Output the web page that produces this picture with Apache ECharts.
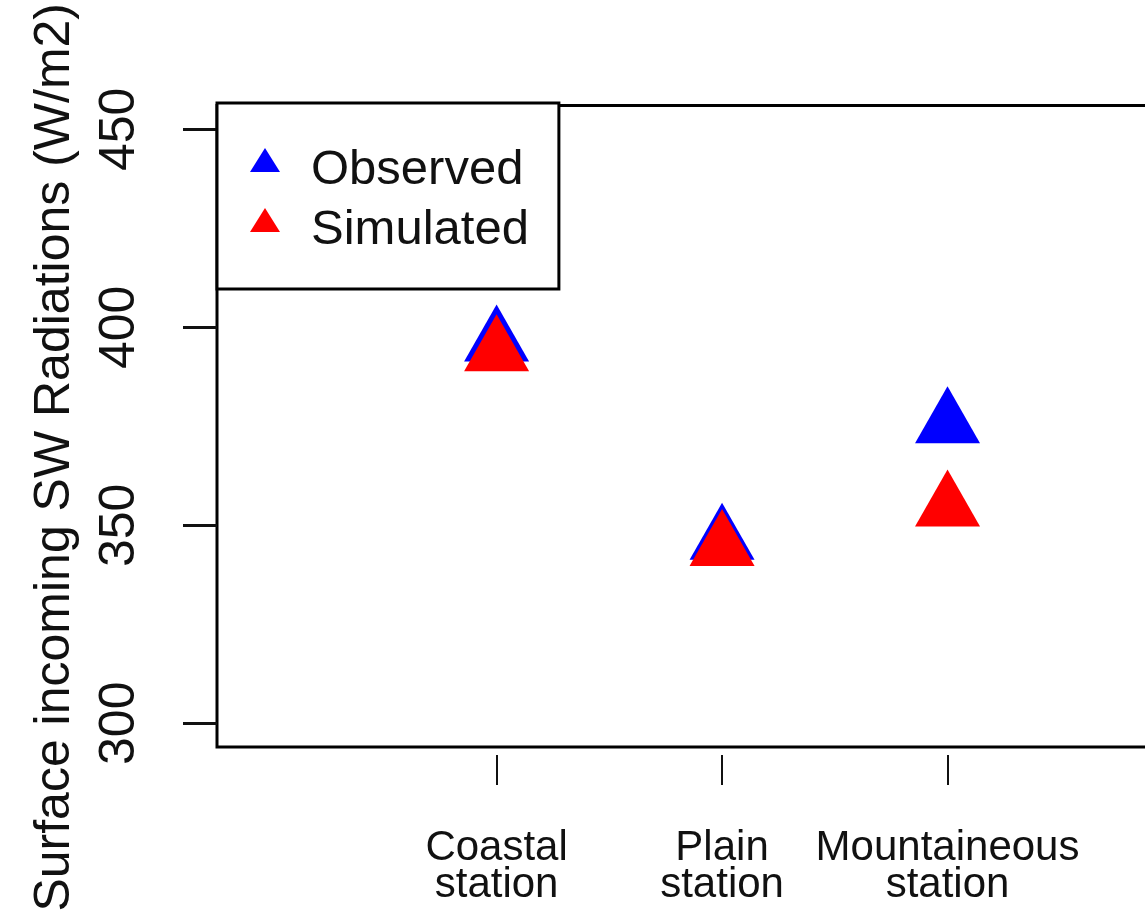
<!DOCTYPE html>
<html><head><meta charset="utf-8">
<script src="https://cdn.jsdelivr.net/npm/echarts@6/dist/echarts.min.js"></script>
<style>html,body{margin:0;padding:0;background:#fff;overflow:hidden}#c{width:1200px;height:914px}</style>
</head><body><div id="c"></div>
<script>
const categories = ['Coastal\nstation', 'Plain\nstation', 'Mountaineous\nstation'];
const categoryPos = [1, 2, 3];
const observed = [396.2, 346.1, 375.5];
const simulated = [393.7, 344.5, 354.5];
const yTicks = [300, 350, 400, 450];
const seriesNames = ['Observed', 'Simulated'];
const yTitle = 'Surface incoming SW Radiations (W/m2)';

const FONT = 'Liberation Sans, Arial, sans-serif';
const chart = echarts.init(document.getElementById('c'), null, {renderer: 'canvas'});
const mk = (vals) => categoryPos.map((x, i) => [x, vals[i]]);

chart.setOption({
  animation: false,
  backgroundColor: '#fff',
  grid: {show: true, left: 217, top: 103, width: 956, height: 644,
         borderColor: '#000', borderWidth: 3, backgroundColor: 'transparent'},
  legend: {
    show: true, orient: 'vertical', left: 217, top: 103,
    padding: [42, 30, 34, 33], itemGap: 10, itemWidth: 30, itemHeight: 44,
    borderColor: '#000', borderWidth: 3, backgroundColor: '#fff',
    selectedMode: false, icon: 'path://M15,0L30,24L0,24ZM0,44L30,44',
    data: seriesNames,
    textStyle: {fontFamily: FONT, fontSize: 49, lineHeight: 50, color: '#111', padding: [0, 0, 0, 26]}
  },
  xAxis: {
    type: 'value', min: -0.24, max: 4, offset: 8,
    axisLine: {show: false, onZero: false}, splitLine: {show: false},
    axisTick: {show: true, length: 30, lineStyle: {color: '#111', width: 2}, customValues: categoryPos},
    axisLabel: {
      customValues: categoryPos, margin: 75, color: '#111',
      fontFamily: FONT, fontSize: 42, lineHeight: 37,
      formatter: (v) => { const i = categoryPos.indexOf(v); return i >= 0 ? categories[i] : ''; }
    }
  },
  yAxis: {
    type: 'value', min: 294, max: 456,
    name: yTitle, nameLocation: 'middle', nameRotate: 90, nameGap: 137,
    nameTextStyle: {fontFamily: FONT, fontSize: 50, color: '#111', padding: [0, 62, 0, 0]},
    axisLine: {show: false, onZero: false}, splitLine: {show: false},
    axisTick: {show: true, length: 34, lineStyle: {color: '#111', width: 3}, customValues: yTicks},
    axisLabel: {customValues: yTicks, rotate: 90, margin: 72, color: '#111',
                fontFamily: FONT, fontSize: 50}
  },
  series: [
    {name: seriesNames[0], type: 'scatter', data: mk(observed), symbol: 'triangle',
     symbolSize: [65, 57], symbolOffset: [0, -9.5], itemStyle: {color: '#0000ff', opacity: 1},
     emphasis: {disabled: true}},
    {name: seriesNames[1], type: 'scatter', data: mk(simulated), symbol: 'triangle',
     symbolSize: [65, 57], symbolOffset: [0, -9.5], itemStyle: {color: '#ff0000', opacity: 1},
     emphasis: {disabled: true}}
  ]
});
</script>
</body></html>
